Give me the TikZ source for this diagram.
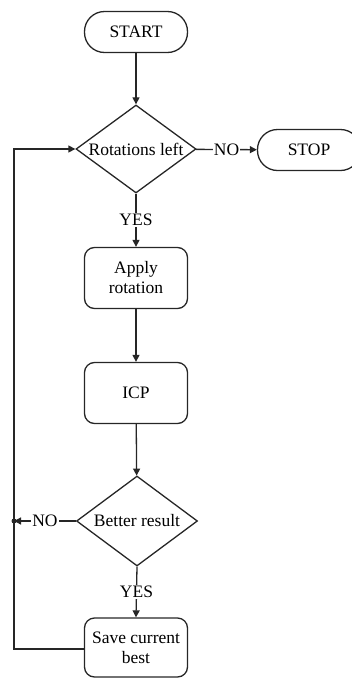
\documentclass[tikz,border=0pt]{standalone}
\usepackage{fontspec}
\setmainfont{Liberation Serif}
\usetikzlibrary{shapes.geometric,arrows.meta}
\begin{document}
\begin{tikzpicture}[x=1pt,y=-1pt,
  font=\fontsize{17.5}{20}\selectfont,
  line width=1.3pt, draw=black!85,
  >={Triangle[length=7pt,width=7pt]},
  terminal/.style={draw, rounded corners=20pt, minimum width=103pt, minimum height=41pt, inner sep=0pt},
  process/.style={draw, rounded corners=10pt, minimum width=103pt, minimum height=61pt, inner sep=0pt, align=center},
  decision/.style={draw, diamond, aspect=1.36, inner sep=0pt, minimum width=120pt, minimum height=88pt},
  lbl/.style={fill=white, inner sep=1pt}]
\useasboundingbox (0,0) rectangle (352,678);

\node[terminal] (start) at (136,32) {START};
\node[decision] (rot) at (136,149) {Rotations left};
\node[terminal] (stop) at (309,150) {STOP};
\node[process] (apply) at (136,278) {Apply\\rotation};
\node[process] (icp) at (136,393) {ICP};
\node[decision, minimum width=121pt, minimum height=90pt] (better) at (137,521) {Better result};
\node[process, minimum height=59pt] (save) at (136,647.5) {Save current\\best};
\coordinate (jn) at (14,521);
\coordinate (bl) at (14,649);
\coordinate (tl) at (14,149);

% main flow
\draw[->] (start) -- (rot);
\draw[->] (rot) -- node[lbl]{NO} (stop);
\draw[->] (rot) -- node[lbl]{YES} (apply);
\draw[->] (apply) -- (icp);
\draw[->] (icp) -- (better);
\draw[->] (better.west) -- node[lbl]{NO} (jn);
\draw[->] (better.south) -- node[lbl]{YES} (save.north);
% loop back to the rotation test
\draw[->] (save.west |- bl) -- (bl) -- (tl) -- (rot.west);
\fill[black!85] (jn) circle (2.5pt);
\end{tikzpicture}
\end{document}
